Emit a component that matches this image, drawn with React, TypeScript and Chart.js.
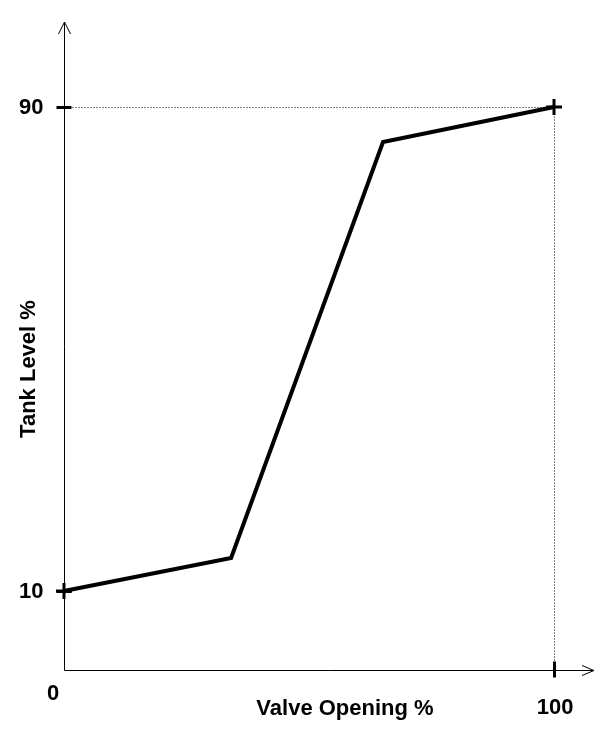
import React, { useEffect, useRef } from "react";
import { Chart, registerables } from "chart.js";

Chart.register(...registerables);

// Data
const valveOpening = [0, 34.1, 65.1, 100];
const tankLevel = [10, 15.45, 84.2, 90];
const xTickValues = [0, 100];
const xTickLabels = ["0", "100"];
const yTickValues = [10, 90];
const yTickLabels = ["10", "90"];
const xTitle = "Valve Opening %";
const yTitle = "Tank Level %";

const FONT = "bold 22px 'Liberation Sans', Arial, sans-serif";

const axesPlugin = {
  id: "customAxes",
  beforeDatasetsDraw(chart: any) {
    const ctx = chart.ctx;
    const xs = chart.scales.x;
    const ys = chart.scales.y;
    const area = chart.chartArea;
    const ox = Math.round(xs.getPixelForValue(0)) + 0.5;
    const oy = Math.round(area.bottom) + 0.5;
    const x100 = Math.round(xs.getPixelForValue(100)) + 0.5;
    const y90 = Math.round(ys.getPixelForValue(90)) + 0.5;

    ctx.save();
    // dotted guide lines
    ctx.strokeStyle = "#000";
    ctx.lineWidth = 1;
    ctx.setLineDash([1, 2]);
    ctx.beginPath();
    ctx.moveTo(ox + 8, y90);
    ctx.lineTo(x100, y90);
    ctx.moveTo(x100, y90);
    ctx.lineTo(x100, oy - 8);
    ctx.stroke();
    ctx.setLineDash([]);

    // axes
    ctx.beginPath();
    ctx.moveTo(ox, oy);
    ctx.lineTo(ox, area.top);
    ctx.moveTo(ox, oy);
    ctx.lineTo(area.right, oy);
    ctx.stroke();

    // arrowheads (open)
    ctx.beginPath();
    ctx.moveTo(ox - 6, area.top + 12);
    ctx.lineTo(ox, area.top);
    ctx.lineTo(ox + 6, area.top + 12);
    ctx.moveTo(area.right - 12, oy - 5);
    ctx.lineTo(area.right, oy);
    ctx.lineTo(area.right - 12, oy + 5);
    ctx.stroke();

    // ticks
    ctx.lineWidth = 3;
    ctx.beginPath();
    yTickValues.forEach((v) => {
      const py = Math.round(ys.getPixelForValue(v)) + 0.5;
      ctx.moveTo(ox - 8, py);
      ctx.lineTo(ox + 7, py);
    });
    xTickValues.forEach((v) => {
      if (v === 0) return;
      const px = Math.round(xs.getPixelForValue(v)) + 0.5;
      ctx.moveTo(px, oy - 9);
      ctx.lineTo(px, oy + 7);
    });
    ctx.stroke();

    // tick labels
    ctx.fillStyle = "#000";
    ctx.font = FONT;
    ctx.textAlign = "right";
    ctx.textBaseline = "middle";
    yTickValues.forEach((v, i) => {
      const py = ys.getPixelForValue(v);
      ctx.fillText(yTickLabels[i], ox - 21, py + 1);
    });
    ctx.textAlign = "center";
    ctx.textBaseline = "alphabetic";
    xTickValues.forEach((v, i) => {
      const px = xs.getPixelForValue(v);
      if (v === 0) ctx.fillText(xTickLabels[i], px - 11, oy + 29);
      else ctx.fillText(xTickLabels[i], px + 1, oy + 43);
    });

    // titles
    ctx.fillText(xTitle, 345, oy + 44);
    ctx.translate(35, 369);
    ctx.rotate(-Math.PI / 2);
    ctx.fillText(yTitle, 0, 0);
    ctx.restore();
  },
};

export default function App() {
  const ref = useRef<HTMLCanvasElement | null>(null);
  useEffect(() => {
    if (!ref.current) return;
    const chart = new Chart(ref.current, {
      type: "scatter",
      data: {
        datasets: [
          {
            data: valveOpening.map((x, i) => ({ x, y: tankLevel[i] })),
            showLine: true,
            borderColor: "#000",
            backgroundColor: "#000",
            borderWidth: 4,
            pointStyle: "cross",
            pointRadius: valveOpening.map((_, i) => (i === 0 || i === valveOpening.length - 1 ? 8 : 0)),
            pointBorderWidth: 3,
            pointBorderColor: "#000",
            clip: false,
          } as any,
        ],
      },
      options: {
        animation: false,
        responsive: false,
        devicePixelRatio: 1,
        layout: { padding: { left: 64, right: 15, top: 22, bottom: 60 } },
        plugins: { legend: { display: false }, tooltip: { enabled: false } },
        scales: {
          x: { type: "linear", min: 0, max: 108.16, display: false },
          y: { type: "linear", min: -3.06, max: 104.05, display: false },
        },
      },
      plugins: [axesPlugin],
    });
    return () => chart.destroy();
  }, []);
  return (
    <div style={{ position: "fixed", left: 0, top: 0, width: 609, height: 730, background: "#fff" }}>
      <canvas ref={ref} width={609} height={730} style={{ display: "block" }} />
    </div>
  );
}
